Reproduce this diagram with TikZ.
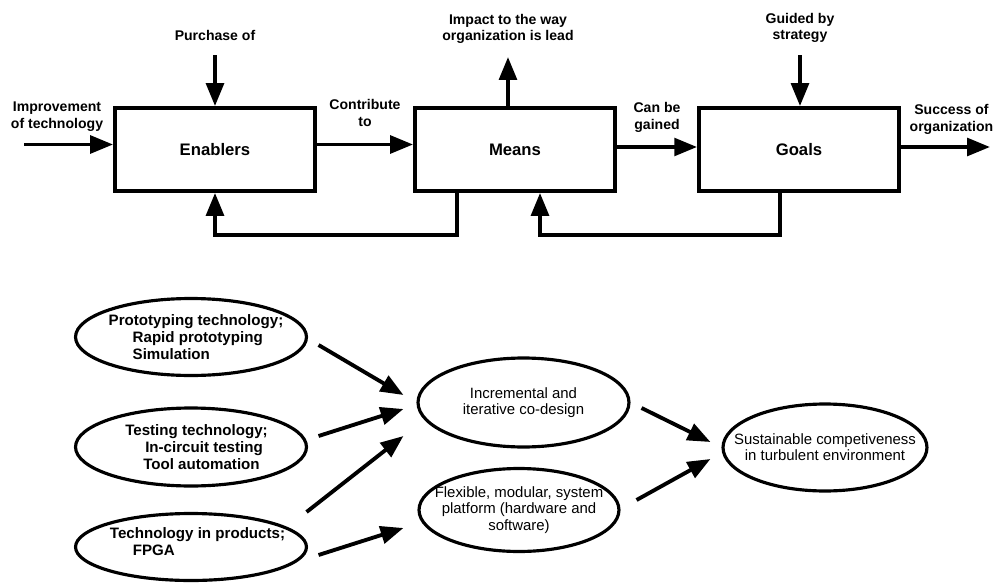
\documentclass[tikz,border=0pt]{standalone}
\usepackage{fontspec}
\setmainfont{Liberation Sans}
\usetikzlibrary{arrows.meta, positioning, shapes.geometric}

\begin{document}
\begin{tikzpicture}[
    x=0.02cm, y=-0.02cm,
    >={Triangle[length=13pt, width=10pt]},
    block/.style={draw, line width=2.2pt, minimum width=4cm, minimum height=1.66cm, font=\fontsize{9.5}{11}\selectfont\bfseries},
    lbl/.style={align=center, inner sep=1pt, font=\fontsize{8}{9.6}\selectfont\bfseries},
    flow/.style={->, line width=2.2pt},
    oval/.style={draw, ellipse, line width=1.8pt, inner sep=-14pt},
    techtext/.style={align=left, font=\fontsize{8.6}{9.6}\selectfont\bfseries},
    goaltext/.style={align=center, font=\fontsize{8.5}{9.2}\selectfont},
]
    \useasboundingbox (0,0) rectangle (995,585);

    % Chain of blocks
    \node[block] (enablers) at (215,149.5) {Enablers};
    \node[block] (means) at (515,149.5) {Means};
    \node[block] (goals) at (799,149.5) {Goals};

    % Improvement of technology
    \coordinate (techin) at (24,144.5);
    \node[lbl] (techlbl) at (57,116.5) {Improvement\\of technology};
    \draw[flow] (techin) -- (techin -| enablers.west);

    % Purchase of
    \coordinate (buyin) at (215,55);
    \node[lbl, above=0.25cm of buyin] (buylbl) {Purchase of};
    \draw[flow] (buyin) -- (enablers.north);

    % Impact on the organization
    \coordinate (leadout) at (508,57);
    \node[lbl, above=0.22cm of leadout] (leadlbl) {Impact to the way\\organization is lead};
    \draw[flow] (leadout |- means.north) -- (leadout);

    % Guided by strategy
    \coordinate (stratin) at (800,55);
    \node[lbl, above=0.2cm of stratin] (stratlbl) {Guided by\\strategy};
    \draw[flow] (stratin) -- (stratin |- goals.north);

    % Flow between blocks
    \draw[flow] ([yshift=0.1cm]enablers.east) -- node[lbl, above=0.28cm] (contriblbl) {Contribute\\to} ([yshift=0.1cm]means.west);
    \draw[flow] ([yshift=0.05cm]means.east) -- node[lbl, above=0.22cm] (gainlbl) {Can be\\gained} ([yshift=0.05cm]goals.west);

    % Success of organization
    \coordinate (succout) at (990,147);
    \draw[flow] ([yshift=0.05cm]goals.east) -- node[lbl, above=0.18cm, xshift=0.12cm] (succlbl) {Success of\\organization} (succout);

    % Feedback loops
    \draw[flow] ([xshift=-1.16cm]means.south) -- ++(0,42) -| (enablers.south);
    \draw[flow] ([xshift=-0.38cm]goals.south) -- ++(0,42) -| ([xshift=0.5cm]means.south);

    % Technologies
    \node[oval, techtext, minimum width=4.62cm, minimum height=1.54cm] (proto) at (191,337)
        {\hspace*{0.2cm}Prototyping technology;\\\hspace*{0.68cm}Rapid prototyping\\\hspace*{0.68cm}Simulation};
    \node[oval, techtext, minimum width=4.62cm, minimum height=1.56cm] (test) at (191,447)
        {\hspace*{0.22cm}Testing technology;\\\hspace*{0.62cm}In-circuit testing\\\hspace*{0.58cm}Tool automation};
    \node[oval, techtext, minimum width=4.62cm, minimum height=1.34cm] (prod) at (191,547)
        {\hspace*{0.26cm}Technology in products;\\\hspace*{0.72cm}FPGA\rule[-6pt]{0pt}{6pt}};

    % Means and goal
    \node[oval, goaltext, minimum width=4.22cm, minimum height=1.78cm] (codesign) at (523.5,402.5) {Incremental and\\iterative co-design};
    \node[oval, goaltext, minimum width=4cm, minimum height=1.66cm] (platform) at (519,510) {Flexible, modular, system\\platform (hardware and\\software)};
    \node[oval, goaltext, minimum width=4.08cm, minimum height=1.74cm] (compet) at (825,447.5) {Sustainable competiveness\\in turbulent environment};

    % Arrows between ovals
    \draw[flow] ([shift={(10.5,8)}]proto.east) -- ([shift={(-13,-7.5)}]codesign.west);
    \draw[flow] ([shift={(10.5,-11)}]test.east) -- ([shift={(-13,6.5)}]codesign.west);
    \draw[flow] ([shift={(-1.5,-35)}]prod.east) -- ([shift={(-13,33.5)}]codesign.west);
    \draw[flow] ([shift={(10.5,8)}]prod.east) -- ([shift={(-14,18)}]platform.west);
    \draw[flow] ([shift={(11,5.5)}]codesign.east) -- ([shift={(-11,-5.5)}]compet.west);
    \draw[flow] ([shift={(16,-10)}]platform.east) -- ([shift={(-11,11.5)}]compet.west);
\end{tikzpicture}
\end{document}
